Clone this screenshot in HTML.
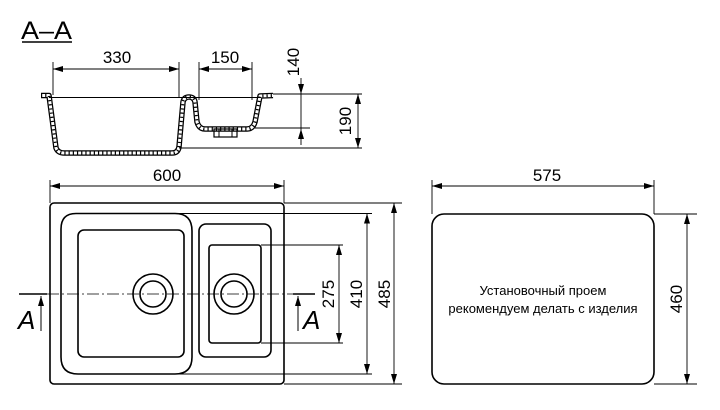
<!DOCTYPE html>
<html><head><meta charset="utf-8"><style>
html,body{margin:0;padding:0;background:#fff}
svg{display:block}
text{font-family:"Liberation Sans","DejaVu Sans",sans-serif;fill:#000}
</style></head><body>
<svg width="720" height="410" viewBox="0 0 720 410" xmlns="http://www.w3.org/2000/svg">
<defs>
<marker id="a" viewBox="0 0 10 6" refX="10" refY="3" markerWidth="10" markerHeight="6" markerUnits="userSpaceOnUse" orient="auto-start-reverse"><path d="M0,0 L10,3 L0,6 z" fill="#000"/></marker>
</defs>
<g fill="none" stroke="#000">
<line x1="22" y1="42" x2="72" y2="42" stroke-width="1.5"/>
<g stroke-linejoin="round">
<path d="M41,95.5 L49,95.5 L56,148 Q58,153 64,153 L172,153 Q178,153 179,147 L183,102 Q184,97 189,97 Q194,97 195,102 L197,122 Q199,129 205,129 L247,129 Q253,129 255,122 L260,96 L273,95.5" stroke-width="5.5"/>
<path d="M41,95.5 L49,95.5 L56,148 Q58,153 64,153 L172,153 Q178,153 179,147 L183,102 Q184,97 189,97 Q194,97 195,102 L197,122 Q199,129 205,129 L247,129 Q253,129 255,122 L260,96 L273,95.5" stroke="#fff" stroke-width="3"/>
<path d="M41,95.5 L49,95.5 L56,148 Q58,153 64,153 L172,153 Q178,153 179,147 L183,102 Q184,97 189,97 Q194,97 195,102 L197,122 Q199,129 205,129 L247,129 Q253,129 255,122 L260,96 L273,95.5" stroke-width="3" stroke-dasharray="1.2 3"/>
</g>
<line x1="49" y1="97.5" x2="260" y2="97.5" stroke-width="1"/>
<rect x="214" y="129" width="23" height="8" stroke-width="1.2"/>
<line x1="219" y1="129" x2="219" y2="137" stroke-width="1"/><line x1="232" y1="129" x2="232" y2="137" stroke-width="1"/>
<g stroke-width="0.9">
<line x1="53" y1="62" x2="53" y2="95"/><line x1="179" y1="62" x2="179" y2="97"/>
<line x1="53" y1="69" x2="179" y2="69" marker-start="url(#a)" marker-end="url(#a)"/>
<line x1="199" y1="62" x2="199" y2="100"/><line x1="252" y1="62" x2="252" y2="100"/>
<line x1="199" y1="69" x2="252" y2="69" marker-start="url(#a)" marker-end="url(#a)"/>
<line x1="301" y1="78" x2="301" y2="94" marker-end="url(#a)"/>
<line x1="301" y1="145" x2="301" y2="129" marker-end="url(#a)"/>
<line x1="301" y1="94" x2="301" y2="129"/>
<line x1="273" y1="94" x2="362" y2="94"/>
<line x1="255" y1="128" x2="310" y2="128"/>
<line x1="179" y1="148" x2="362" y2="148"/>
<line x1="358" y1="94" x2="358" y2="148" marker-start="url(#a)" marker-end="url(#a)"/>
</g>
<rect x="50" y="203" width="234" height="181" rx="4" stroke-width="1.6"/>
<path d="M76,213.5 L175,213.5 Q192,213.5 192,231 L192,357 Q192,374 175,374 L78,374 Q61,374 61,357 L61,229 Q61,213.5 76,213.5 Z" stroke-width="1.6"/>
<rect x="78" y="230" width="106" height="127" rx="6" stroke-width="1.6"/>
<rect x="199" y="224" width="72" height="133" rx="7" stroke-width="1.6"/>
<rect x="209" y="245" width="52" height="98" rx="3" stroke-width="1.6"/>
<circle cx="153" cy="294" r="20" stroke-width="1.6"/><circle cx="153" cy="294" r="13" stroke-width="1.6"/>
<circle cx="234" cy="294" r="20" stroke-width="1.6"/><circle cx="234" cy="294" r="13" stroke-width="1.6"/>
<line x1="47" y1="294" x2="293" y2="294" stroke-width="0.8" stroke-dasharray="12 3 2 3"/>
<line x1="19" y1="294" x2="47" y2="294" stroke-width="1.6"/>
<line x1="293" y1="294" x2="315" y2="294" stroke-width="1.6"/>
<line x1="41" y1="331" x2="41" y2="296" stroke-width="1" marker-end="url(#a)"/>
<line x1="298" y1="331" x2="298" y2="296" stroke-width="1" marker-end="url(#a)"/>
<g stroke-width="0.9">
<line x1="50" y1="180" x2="50" y2="203"/><line x1="284" y1="180" x2="284" y2="203"/>
<line x1="50" y1="186" x2="284" y2="186" marker-start="url(#a)" marker-end="url(#a)"/>
<line x1="261" y1="245" x2="343" y2="245"/><line x1="261" y1="343" x2="343" y2="343"/>
<line x1="339" y1="245" x2="339" y2="343" marker-start="url(#a)" marker-end="url(#a)"/>
<line x1="177" y1="213.5" x2="372" y2="213.5"/><line x1="177" y1="374" x2="372" y2="374"/>
<line x1="367" y1="213.5" x2="367" y2="374" marker-start="url(#a)" marker-end="url(#a)"/>
<line x1="284" y1="203" x2="402" y2="203"/><line x1="284" y1="384" x2="402" y2="384"/>
<line x1="394" y1="203" x2="394" y2="384" marker-start="url(#a)" marker-end="url(#a)"/>
</g>
<rect x="432" y="214" width="222" height="170" rx="12" stroke-width="1.6"/>
<g stroke-width="0.9">
<line x1="432" y1="180" x2="432" y2="214"/><line x1="654" y1="180" x2="654" y2="214"/>
<line x1="432" y1="186" x2="654" y2="186" marker-start="url(#a)" marker-end="url(#a)"/>
<line x1="654" y1="214" x2="697" y2="214"/><line x1="654" y1="384" x2="697" y2="384"/>
<line x1="687" y1="214" x2="687" y2="384" marker-start="url(#a)" marker-end="url(#a)"/>
</g>
</g>
<g font-size="17">
<text x="21" y="39" font-size="25" textLength="51" lengthAdjust="spacingAndGlyphs">A–A</text>
<text x="117" y="63" text-anchor="middle">330</text>
<text x="225" y="63" text-anchor="middle">150</text>
<text transform="translate(299,62) rotate(-90)" text-anchor="middle">140</text>
<text transform="translate(351,121) rotate(-90)" text-anchor="middle">190</text>
<text x="167" y="181" text-anchor="middle">600</text>
<text x="547" y="181" text-anchor="middle">575</text>
<text transform="translate(334,294) rotate(-90)" text-anchor="middle">275</text>
<text transform="translate(362,294) rotate(-90)" text-anchor="middle">410</text>
<text transform="translate(390,294) rotate(-90)" text-anchor="middle">485</text>
<text transform="translate(682,299) rotate(-90)" text-anchor="middle">460</text>
<text x="18" y="329" font-size="26" font-style="italic">A</text>
<text x="303" y="329" font-size="26" font-style="italic">A</text>
</g>
<text x="543" y="295" font-size="13" text-anchor="middle">Установочный проем</text>
<text x="543" y="313" font-size="13" text-anchor="middle">рекомендуем делать с изделия</text>
</svg>
</body></html>
